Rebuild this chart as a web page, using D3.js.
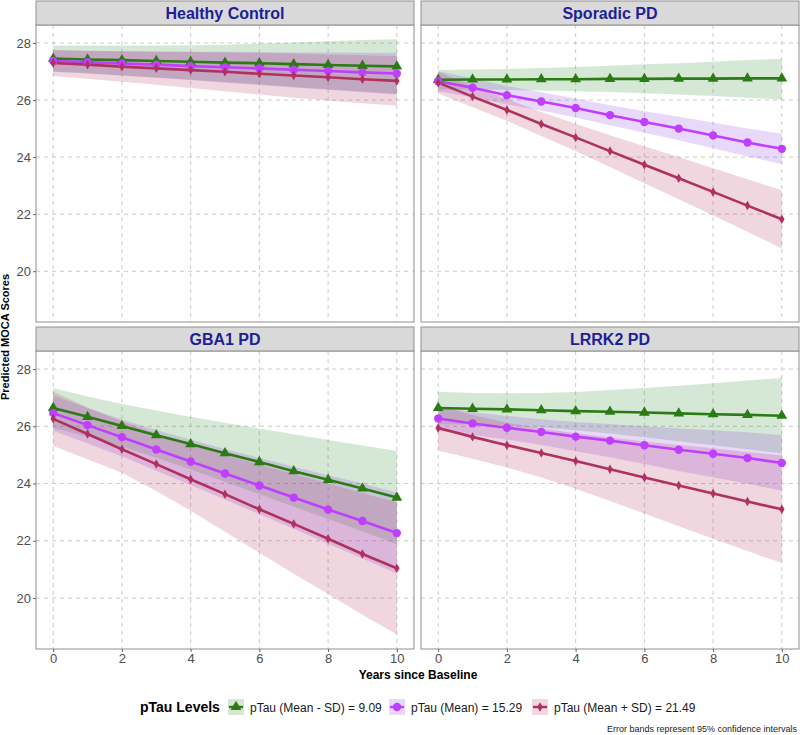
<!DOCTYPE html>
<html>
<head>
<meta charset="utf-8">
<script src="https://cdn.jsdelivr.net/npm/d3@7"></script>
<style>
  body { margin: 0; background: #fff; }
  svg { display: block; font-family: "Liberation Sans", Arial, sans-serif; }
</style>
</head>
<body>
<div id="chart"></div>
<script>
// ---- data ----
var years = [0, 1, 2, 3, 4, 5, 6, 7, 8, 9, 10];
var panelNames = ["Healthy Control", "Sporadic PD", "GBA1 PD", "LRRK2 PD"];
var levelNames = ["pTau (Mean - SD) = 9.09", "pTau (Mean) = 15.29", "pTau (Mean + SD) = 21.49"];
var yTicks = [20, 22, 24, 26, 28];
var xTicks = [0, 2, 4, 6, 8, 10];

// rows: Mean - SD, Mean, Mean + SD
var hcFit = [
  [27.45, 27.42, 27.40, 27.37, 27.34, 27.31, 27.29, 27.26, 27.23, 27.20, 27.18],
  [27.37, 27.33, 27.28, 27.24, 27.19, 27.15, 27.11, 27.06, 27.02, 26.97, 26.93],
  [27.30, 27.24, 27.17, 27.11, 27.05, 26.99, 26.92, 26.86, 26.80, 26.73, 26.67]
];
var hcLow = [
  [26.99, 26.93, 26.86, 26.79, 26.71, 26.63, 26.55, 26.46, 26.38, 26.30, 26.22],
  [27.00, 26.94, 26.86, 26.78, 26.70, 26.61, 26.53, 26.44, 26.36, 26.27, 26.19],
  [26.84, 26.75, 26.64, 26.54, 26.42, 26.31, 26.19, 26.08, 25.98, 25.89, 25.80]
];
var hcHigh = [
  [27.91, 27.91, 27.91, 27.91, 27.92, 27.94, 27.98, 28.02, 28.06, 28.10, 28.13],
  [27.74, 27.72, 27.71, 27.70, 27.69, 27.69, 27.68, 27.67, 27.67, 27.66, 27.66],
  [27.76, 27.73, 27.71, 27.69, 27.68, 27.67, 27.65, 27.63, 27.60, 27.57, 27.54]
];

var spFit = [
  [26.71, 26.72, 26.72, 26.73, 26.73, 26.74, 26.74, 26.75, 26.75, 26.76, 26.76],
  [26.66, 26.43, 26.17, 25.95, 25.72, 25.47, 25.23, 25.00, 24.76, 24.51, 24.29],
  [26.61, 26.12, 25.65, 25.16, 24.69, 24.21, 23.73, 23.26, 22.78, 22.30, 21.82]
];
var spLow = [
  [26.37, 26.37, 26.35, 26.33, 26.31, 26.28, 26.24, 26.19, 26.14, 26.08, 26.02],
  [26.31, 26.10, 25.85, 25.63, 25.39, 25.12, 24.85, 24.59, 24.31, 24.02, 23.76],
  [26.23, 25.75, 25.27, 24.74, 24.21, 23.65, 23.08, 22.52, 21.95, 21.38, 20.80]
];
var spHigh = [
  [27.05, 27.07, 27.09, 27.12, 27.16, 27.20, 27.25, 27.29, 27.34, 27.40, 27.45],
  [27.01, 26.76, 26.49, 26.27, 26.05, 25.82, 25.61, 25.41, 25.21, 25.00, 24.82],
  [26.99, 26.49, 26.03, 25.58, 25.17, 24.77, 24.38, 24.00, 23.61, 23.22, 22.84]
];

var gbFit = [
  [26.64, 26.33, 26.01, 25.69, 25.38, 25.06, 24.75, 24.43, 24.13, 23.83, 23.51],
  [26.46, 26.04, 25.62, 25.19, 24.77, 24.35, 23.93, 23.51, 23.09, 22.69, 22.27],
  [26.26, 25.73, 25.20, 24.68, 24.15, 23.63, 23.10, 22.59, 22.07, 21.54, 21.04]
];
var gbLow = [
  [25.94, 25.64, 25.29, 24.90, 24.49, 24.06, 23.63, 23.19, 22.76, 22.33, 21.88],
  [25.84, 25.40, 24.95, 24.45, 23.95, 23.44, 22.93, 22.42, 21.90, 21.38, 20.86],
  [25.31, 24.85, 24.38, 23.74, 23.05, 22.32, 21.58, 20.85, 20.14, 19.42, 18.73]
];
var gbHigh = [
  [27.34, 27.04, 26.78, 26.55, 26.33, 26.12, 25.92, 25.72, 25.52, 25.33, 25.14],
  [27.08, 26.64, 26.24, 25.87, 25.53, 25.21, 24.90, 24.59, 24.29, 24.00, 23.69],
  [27.21, 26.66, 26.17, 25.75, 25.36, 25.01, 24.66, 24.33, 24.00, 23.66, 23.35]
];

var lrFit = [
  [26.64, 26.61, 26.59, 26.56, 26.53, 26.51, 26.48, 26.45, 26.42, 26.40, 26.37],
  [26.27, 26.10, 25.95, 25.80, 25.64, 25.50, 25.34, 25.18, 25.04, 24.89, 24.72],
  [25.94, 25.63, 25.34, 25.07, 24.79, 24.50, 24.21, 23.93, 23.65, 23.37, 23.10]
];
var lrLow = [
  [26.07, 26.06, 26.03, 25.96, 25.86, 25.75, 25.62, 25.48, 25.34, 25.20, 25.05],
  [25.85, 25.70, 25.54, 25.35, 25.13, 24.92, 24.68, 24.44, 24.22, 23.99, 23.75],
  [25.15, 24.87, 24.56, 24.21, 23.82, 23.39, 22.95, 22.51, 22.07, 21.64, 21.22]
];
var lrHigh = [
  [27.21, 27.16, 27.15, 27.16, 27.20, 27.27, 27.34, 27.42, 27.50, 27.60, 27.69],
  [26.69, 26.50, 26.36, 26.25, 26.15, 26.08, 26.00, 25.92, 25.86, 25.79, 25.69],
  [26.73, 26.39, 26.12, 25.93, 25.76, 25.61, 25.47, 25.35, 25.23, 25.10, 24.98]
];

var fits = [hcFit, spFit, gbFit, lrFit];
var lows = [hcLow, spLow, gbLow, lrLow];
var highs = [hcHigh, spHigh, gbHigh, lrHigh];

// ---- styles ----
var lineColors = ["#2b7a14", "#bf3eff", "#b03060"];
var bandColors = ["#2e8b2e", "#8a3be2", "#b03060"];
var bandAlpha = 0.2;
var shapes = [d3.symbolTriangle, d3.symbolCircle, d3.symbolDiamond];
var shapeSizes = [50, 55, 26];

var W = 800, H = 735;
var svg = d3.select("#chart").append("svg")
  .attr("width", W).attr("height", H);

// panel geometry
var cols = [[36, 414], [421, 799]];
var rows = [{ strip: 1, top: 25, bottom: 322 }, { strip: 327, top: 351, bottom: 649 }];

var x0 = d3.scaleLinear().domain([-0.5, 10.5]);

panelNames.forEach(function(name, p) {
  var c = cols[p % 2], r = rows[Math.floor(p / 2)];
  var x = x0.copy().range([c[0], c[1]]);
  var y = d3.scaleLinear().domain([18.22, 28.63]).range([r.bottom, r.top]);

  var g = svg.append("g").attr("class", "panel");

  // grid
  g.append("g").selectAll("line").data(yTicks).enter().append("line")
    .attr("x1", c[0]).attr("x2", c[1])
    .attr("y1", function(d) { return y(d); }).attr("y2", function(d) { return y(d); })
    .attr("stroke", "#bdbdbd").attr("stroke-width", 0.8).attr("stroke-dasharray", "4,4");
  g.append("g").selectAll("line").data(xTicks).enter().append("line")
    .attr("y1", r.top).attr("y2", r.bottom)
    .attr("x1", function(d) { return x(d); }).attr("x2", function(d) { return x(d); })
    .attr("stroke", "#bdbdbd").attr("stroke-width", 0.8).attr("stroke-dasharray", "4,4");

  // ribbons
  for (var s = 0; s < 3; s++) {
    var band = years.map(function(yr, i) { return { x: yr, lo: lows[p][s][i], hi: highs[p][s][i] }; });
    g.append("path").datum(band)
      .attr("d", d3.area().x(function(d) { return x(d.x); })
        .y0(function(d) { return y(d.lo); }).y1(function(d) { return y(d.hi); }))
      .attr("fill", bandColors[s]).attr("fill-opacity", bandAlpha);
  }
  // lines
  for (var s2 = 0; s2 < 3; s2++) {
    var pts = years.map(function(yr, i) { return { x: yr, v: fits[p][s2][i] }; });
    g.append("path").datum(pts)
      .attr("d", d3.line().x(function(d) { return x(d.x); }).y(function(d) { return y(d.v); }))
      .attr("fill", "none").attr("stroke", lineColors[s2]).attr("stroke-width", 2.6);
  }
  // points
  for (var s3 = 0; s3 < 3; s3++) {
    var pts2 = years.map(function(yr, i) { return { x: yr, v: fits[p][s3][i] }; });
    g.append("g").selectAll("path").data(pts2).enter().append("path")
      .attr("d", d3.symbol().type(shapes[s3]).size(shapeSizes[s3]))
      .attr("transform", function(d) { return "translate(" + x(d.x) + "," + y(d.v) + ")"; })
      .attr("fill", lineColors[s3]);
  }

  // panel border
  g.append("rect").attr("x", c[0]).attr("y", r.top).attr("width", c[1] - c[0]).attr("height", r.bottom - r.top)
    .attr("fill", "none").attr("stroke", "#8f8f8f").attr("stroke-width", 1);
  // strip
  g.append("rect").attr("x", c[0]).attr("y", r.strip).attr("width", c[1] - c[0]).attr("height", r.top - r.strip)
    .attr("fill", "#d9d9d9").attr("stroke", "#8f8f8f").attr("stroke-width", 1);
  g.append("text").attr("x", (c[0] + c[1]) / 2).attr("y", (r.strip + r.top) / 2 + 6)
    .attr("text-anchor", "middle").attr("font-weight", "bold").attr("font-size", 16)
    .attr("fill", "#1e1e96").text(name);

  // y axis on left column
  if (p % 2 === 0) {
    var ya = g.append("g").attr("transform", "translate(" + c[0] + ",0)")
      .call(d3.axisLeft(y).tickValues(yTicks).tickSize(3).tickPadding(2));
    ya.select(".domain").remove();
    ya.selectAll("line").attr("stroke", "#666");
    ya.selectAll("text").attr("font-size", 13).attr("fill", "#4d4d4d").attr("font-family", "Liberation Sans, Arial, sans-serif");
  }
  // x axis on bottom row
  if (p >= 2) {
    var xa = g.append("g").attr("transform", "translate(0," + r.bottom + ")")
      .call(d3.axisBottom(x).tickValues(xTicks).tickSize(3).tickPadding(2));
    xa.select(".domain").remove();
    xa.selectAll("line").attr("stroke", "#666");
    xa.selectAll("text").attr("font-size", 13).attr("fill", "#4d4d4d").attr("font-family", "Liberation Sans, Arial, sans-serif");
  }
});

// axis titles
svg.append("text").attr("x", 418).attr("y", 679).attr("text-anchor", "middle")
  .attr("font-weight", "bold").attr("font-size", 12).text("Years since Baseline");
svg.append("text").attr("transform", "translate(9,337) rotate(-90)").attr("text-anchor", "middle")
  .attr("font-weight", "bold").attr("font-size", 11).text("Predicted MOCA Scores");

// legend
var leg = svg.append("g").attr("transform", "translate(0,707)");
leg.append("text").attr("x", 140).attr("y", 5).attr("font-weight", "bold").attr("font-size", 14)
  .text("pTau Levels");
var keyX = [228, 389, 532];
levelNames.forEach(function(lbl, s) {
  var k = leg.append("g").attr("transform", "translate(" + keyX[s] + ",0)");
  k.append("rect").attr("x", 0).attr("y", -8).attr("width", 16).attr("height", 16)
    .attr("fill", bandColors[s]).attr("fill-opacity", bandAlpha);
  k.append("line").attr("x1", 1).attr("x2", 15).attr("y1", 0).attr("y2", 0)
    .attr("stroke", lineColors[s]).attr("stroke-width", 2.4);
  k.append("path").attr("d", d3.symbol().type(shapes[s]).size(shapeSizes[s]))
    .attr("transform", "translate(8,0)").attr("fill", lineColors[s]);
  k.append("text").attr("x", 22).attr("y", 4.5).attr("font-size", 12).attr("fill", "#1a1a1a").text(lbl);
});

svg.append("text").attr("x", 797).attr("y", 732).attr("text-anchor", "end")
  .attr("font-size", 9).attr("fill", "#222").text("Error bands represent 95% confidence intervals");
</script>
</body>
</html>
